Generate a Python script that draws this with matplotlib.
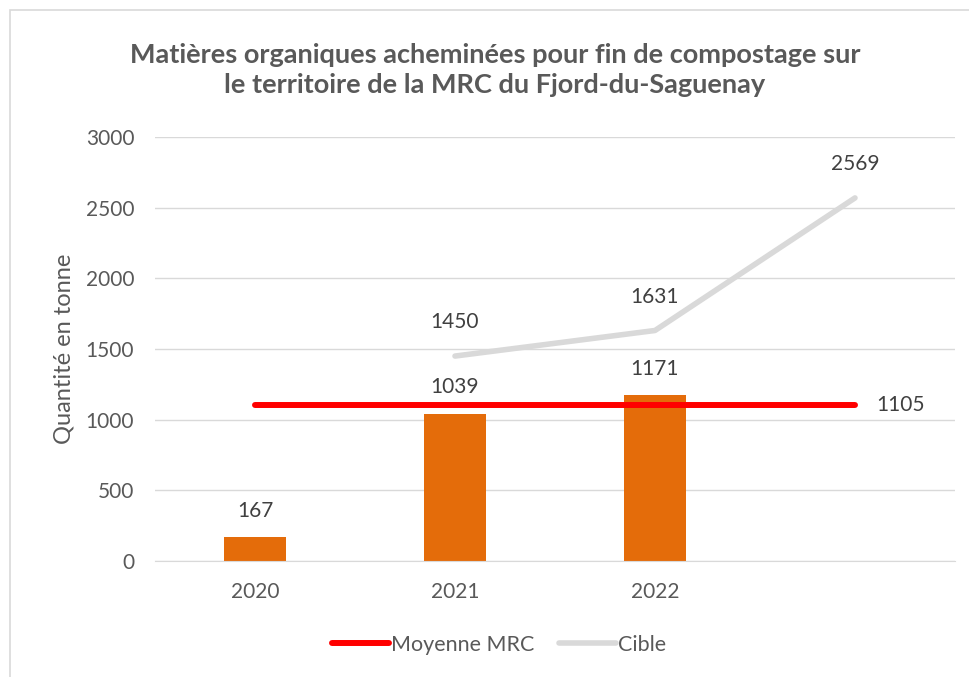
import matplotlib
matplotlib.use("Agg")
import matplotlib.pyplot as plt
from matplotlib.patches import Rectangle

categories = ["2020", "2021", "2022", ""]
bar_values = [167, 1039, 1171, None]
moyenne_values = [1105, 1105, 1105, 1105]
cible_values = [None, 1450, 1631, 2569]
yticks = [0, 500, 1000, 1500, 2000, 2500, 3000]

plt.rcParams['font.family'] = ['Lato', 'DejaVu Sans']
txt = '#595959'
fs = 15

fig = plt.figure(figsize=(9.69, 6.77), dpi=100)
ax = fig.add_axes([155/969, 1-561/677, 800/969, (561-137)/677])

x = list(range(len(categories)))
bx = [i for i, v in zip(x, bar_values) if v is not None]
bv = [v for v in bar_values if v is not None]
ax.bar(bx, bv, width=0.31, color='#E46C0A', zorder=2)
for i, v in zip(bx, bv):
    ax.annotate(str(v), (i, v), xytext=(0, 12), textcoords='offset points',
                ha='center', va='bottom', fontsize=fs, color='#404040')

ax.plot(x, moyenne_values, color='#FF0000', lw=4.3, solid_capstyle='round', zorder=3, label='Moyenne MRC')
ax.annotate(str(moyenne_values[-1]), (x[-1], moyenne_values[-1]), xytext=(15, 0), textcoords='offset points',
            ha='left', va='center', fontsize=fs, color='#404040')

cx = [i for i, v in zip(x, cible_values) if v is not None]
cv = [v for v in cible_values if v is not None]
ax.plot(cx, cv, color='#D9D9D9', lw=4, solid_capstyle='round', zorder=3, label='Cible')
for i, v in zip(cx, cv):
    ax.annotate(str(v), (i, v), xytext=(0, 17), textcoords='offset points',
                ha='center', va='bottom', fontsize=fs, color='#404040')

ax.set_xlim(-0.5, len(categories) - 0.5)
ax.set_ylim(0, 3000)
ax.set_yticks(yticks)
ax.set_yticklabels([str(t) for t in yticks])
ax.set_xticks(x)
ax.set_xticklabels(categories)
ax.grid(axis='y', color='#D9D9D9', lw=1, zorder=0)
ax.set_axisbelow(True)
for s in ['top', 'right', 'left']:
    ax.spines[s].set_visible(False)
ax.spines['bottom'].set_color('#D9D9D9')
ax.tick_params(axis='both', length=0, labelsize=fs, labelcolor=txt)
ax.tick_params(axis='y', pad=15)
ax.tick_params(axis='x', pad=15)
ax.set_ylabel('Quantité en tonne', fontsize=17, color=txt, labelpad=8)

fig.text(495/969, 1-70/677, "Matières organiques acheminées pour fin de compostage sur\nle territoire de la MRC du Fjord-du-Saguenay",
         ha='center', va='center', fontsize=19.5, fontweight='bold', color=txt, linespacing=1.3)

leg = fig.legend(loc='center', bbox_to_anchor=(499/969, 1-645/677), ncol=2, frameon=False,
                 fontsize=15.5, handlelength=2.65, handletextpad=0.1, columnspacing=1.15)
for t in leg.get_texts():
    t.set_color(txt)

fig.patches.append(Rectangle((10/969, -0.01), 1.0, 1 - 10/677 + 0.01, transform=fig.transFigure,
                             fill=False, edgecolor='#D9D9D9', lw=1.2))

fig.savefig('out.png', dpi=100)
